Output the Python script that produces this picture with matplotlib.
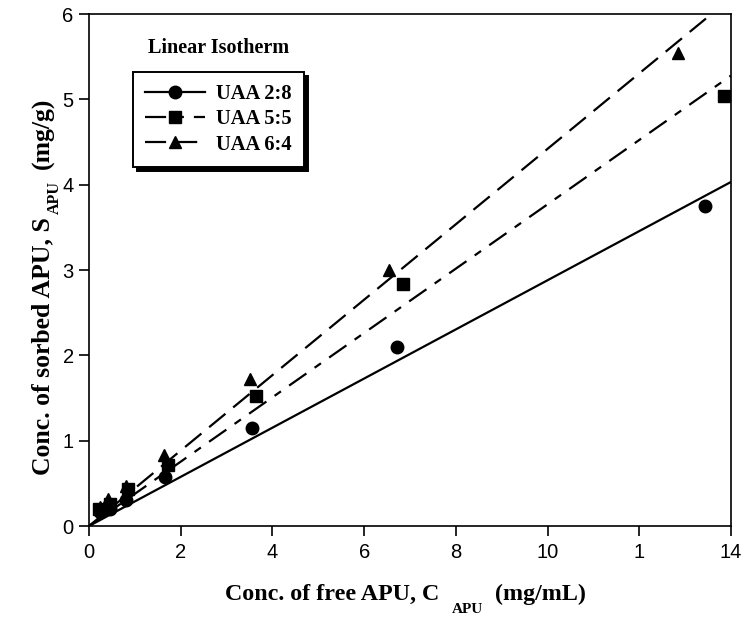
import numpy as np
import matplotlib
matplotlib.use('Agg')
import matplotlib.pyplot as plt

# measured sorption data (C in mg/mL, S in mg/g)
c_28 = [0.25, 0.45, 0.80, 1.65, 3.55, 6.72, 13.43]
s_28 = [0.16, 0.20, 0.31, 0.57, 1.15, 2.10, 3.75]
c_55 = [0.22, 0.45, 0.85, 1.72, 3.64, 6.85, 13.85]
s_55 = [0.20, 0.26, 0.43, 0.71, 1.52, 2.84, 5.04]
c_64 = [0.25, 0.42, 0.80, 1.64, 3.51, 6.54, 12.84]
s_64 = [0.22, 0.32, 0.47, 0.83, 1.72, 3.00, 5.54]

# linear isotherm partition coefficients Kd (S = Kd * C)
kd = [0.288, 0.377, 0.442]
labels = ['UAA 2:8', 'UAA 5:5', 'UAA 6:4']

xticks = [0, 2, 4, 6, 8, 10, 12, 14]
xticklabels = ['0', '2', '4', '6', '8', '10', '1', '14']
yticks = [0, 1, 2, 3, 4, 5, 6]

serif = 'Liberation Serif'
sans = 'Liberation Sans'

fig = plt.figure(figsize=(7.46, 6.2), dpi=100)
ax = fig.add_axes([89 / 746, 1 - 526 / 620, 642 / 746, 512 / 620])

xfit = np.linspace(0, 14, 200)
lw = 1.6
styles = [dict(ls='-'),
          dict(ls=(0, (9.5, 4.5, 3.5, 4.5))),
          dict(ls=(0, (9.5, 4.5)))]
markers = ['o', 's', '^']
msizes = [9, 8.5, 9]
series = [(c_28, s_28), (c_55, s_55), (c_64, s_64)]

for (cx, sy), k, st, m, ms, lab in zip(series, kd, styles, markers, msizes, labels):
    ax.plot(xfit, k * xfit, color='black', lw=lw, **st)
    ax.plot(cx, sy, m, color='black', ms=ms, mec='black')
    # legend proxy: fit line with marker
    ax.plot([], [], color='black', lw=lw, marker=m, ms=ms, label=lab, **st)

ax.set_xlim(0, 14)
ax.set_ylim(0, 6)
ax.set_xticks(xticks)
ax.set_xticklabels(xticklabels)
ax.set_yticks(yticks)
for t in ax.get_xticklabels() + ax.get_yticklabels():
    t.set_fontfamily(sans)
    t.set_fontsize(14.5)
ax.tick_params(axis='x', direction='out', length=7.5, width=1.2, pad=5,
               top=False)
ax.tick_params(axis='y', direction='out', length=7, width=1.2, pad=4,
               right=False)
for sp in ax.spines.values():
    sp.set_linewidth(1.2)

ax.text(1.29, 5.54, 'Linear Isotherm', fontfamily=serif, fontweight='bold',
        fontsize=14.5, ha='left', va='baseline')

leg = ax.legend(loc='upper left', bbox_to_anchor=(133 / 746, 1 - 72 / 620),
                bbox_transform=fig.transFigure, borderaxespad=0,
                prop={'family': serif, 'weight': 'bold', 'size': 14.8},
                handlelength=2.9, handletextpad=0.55, labelspacing=0.25,
                borderpad=0.6, fancybox=False, framealpha=1,
                edgecolor='black',
                shadow={'color': 'black', 'alpha': 1, 'ox': 3, 'oy': -3})
leg.get_frame().set_linewidth(1.4)

# axis titles with a deep subscript, laid out piece by piece (pixel units)
renderer = fig.canvas.get_renderer()


def sub_label(parts, x0, y0, vertical=False):
    pos = 0.0
    for text, size, drop, gap in parts:
        pos += gap
        if vertical:
            xy = ((x0 + drop) / 100, (y0 + pos) / 100)
        else:
            xy = ((x0 + pos) / 100, (y0 - drop) / 100)
        t = fig.text(xy[0], xy[1], text, transform=fig.dpi_scale_trans,
                     fontfamily=serif, fontweight='bold', fontsize=size,
                     ha='left', va='baseline', rotation=90 if vertical else 0,
                     rotation_mode='anchor')
        ext = t.get_window_extent(renderer)
        pos += ext.height if vertical else ext.width


sub_label([('Conc. of free APU, C', 17.3, 0, 0),
           ('APU', 11, 13, 13),
           ('(mg/mL)', 17.3, 0, 12)], 225, 20)
sub_label([('Conc. of sorbed APU, S', 18.5, 0, 0),
           ('APU', 11.5, 10, 3),
           ('(mg/g)', 18.5, 0, 12)], 49, 145, vertical=True)

fig.savefig('out.png', dpi=100)
